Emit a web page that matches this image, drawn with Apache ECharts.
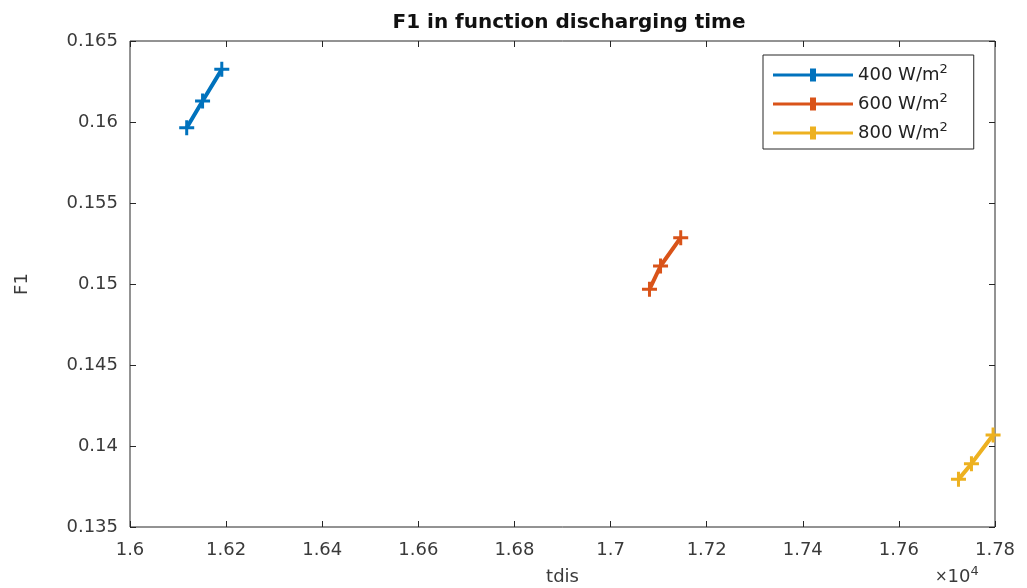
<!DOCTYPE html>
<html>
<head>
<meta charset="utf-8">
<script src="https://cdn.jsdelivr.net/npm/echarts@6/dist/echarts.min.js"></script>
<style>
  html, body { margin: 0; padding: 0; background: #fff; }
  #chart { width: 1027px; height: 588px; }
</style>
</head>
<body>
<div id="chart"></div>
<script>
// values (tdis in seconds, F1 dimensionless)
const irradiance = ['400', '600', '800']
const colors = ['#0072BD', '#D95319', '#EDB120']

const tdis400 = [16118, 16151, 16191]
const f1_400 = [0.15965, 0.16130, 0.16325]
const tdis600 = [17081, 17104, 17146]
const f1_600 = [0.14967, 0.15111, 0.15286]
const tdis800 = [17724, 17751, 17796]
const f1_800 = [0.13794, 0.13891, 0.14068]

const xs = [tdis400, tdis600, tdis800]
const ys = [f1_400, f1_600, f1_800]

const plus = 'path://M4,0 H6 V4 H10 V6 H6 V10 H4 V6 H0 V4 H4 Z'
const legendIcon = 'path://M0,6 H37 V1 H43 V6 H80 V9 H43 V14 H37 V9 H0 Z'

const font = '"DejaVu Sans", Arial, sans-serif'
const txt = '#3a3a3a'

const chart = echarts.init(document.getElementById('chart'))

const xBase = {
  type: 'value', min: 16000, max: 17800, interval: 200,
  axisLine: { show: false },
  axisTick: { inside: true, length: 6, lineStyle: { color: '#262626' } },
  splitLine: { show: false }
}
const yBase = {
  type: 'value', min: 0.135, max: 0.165, interval: 0.005,
  axisLine: { show: false },
  axisTick: { inside: true, length: 6, lineStyle: { color: '#262626' } },
  splitLine: { show: false }
}

chart.setOption({
  animation: false,
  title: {
    text: 'F1 in function discharging time',
    left: 564, top: 8, textAlign: 'center',
    textStyle: { fontFamily: font, fontSize: 20, fontWeight: 'bold', color: '#111' }
  },
  grid: {
    left: 130, right: 32, top: 41, bottom: 61, outerBoundsMode: 'none',
    show: true, borderColor: '#262626', borderWidth: 1, backgroundColor: '#fff'
  },
  legend: {
    orient: 'vertical', left: 763, top: 55,
    padding: [8, 26, 7, 10], itemGap: 8,
    itemWidth: 80, itemHeight: 14,
    backgroundColor: '#fff', borderColor: '#262626', borderWidth: 1,
    icon: legendIcon,
    formatter: n => '{b|' + n + ' W/m}{s|2}',
    textStyle: {
      fontFamily: font, color: '#222',
      rich: {
        b: { fontFamily: font, fontSize: 18, color: '#222' },
        s: { fontFamily: font, fontSize: 13, color: '#222', padding: [0, 0, 11, 0] }
      }
    },
    data: irradiance
  },
  xAxis: [
    Object.assign({}, xBase, {
      position: 'bottom',
      name: 'tdis', nameLocation: 'middle', nameGap: 41,
      nameTextStyle: { fontFamily: font, fontSize: 18, color: txt },
      axisLabel: {
        margin: 14, fontFamily: font, fontSize: 18, color: txt,
        formatter: v => String(parseFloat((v / 1e4).toFixed(2)))
      }
    }),
    Object.assign({}, xBase, { position: 'top', axisLabel: { show: false } })
  ],
  yAxis: [
    Object.assign({}, yBase, {
      position: 'left',
      name: 'F1', nameLocation: 'middle', nameGap: 99,
      nameTextStyle: { fontFamily: font, fontSize: 18, color: txt },
      axisLabel: {
        margin: 12, fontFamily: font, fontSize: 18, color: txt,
        formatter: v => String(parseFloat(v.toFixed(3)))
      }
    }),
    Object.assign({}, yBase, { position: 'right', axisLabel: { show: false } })
  ],
  graphic: [{
    type: 'text', left: 935, top: 565,
    style: {
      text: '{x|×}{t|10}{s|4}',
      rich: {
        x: { fontFamily: font, fontSize: 15, fill: txt },
        t: { fontFamily: font, fontSize: 18, fill: txt },
        s: { fontFamily: font, fontSize: 13, fill: txt, padding: [0, 0, 11, 0] }
      }
    }
  }],
  series: irradiance.map((name, i) => ({
    name,
    type: 'line',
    xAxisIndex: 0, yAxisIndex: 0,
    data: xs[i].map((x, j) => [x, ys[i][j]]),
    symbol: plus, symbolSize: 15,
    lineStyle: { width: 4, color: colors[i] },
    itemStyle: { color: colors[i] }
  }))
})
</script>
</body>
</html>
